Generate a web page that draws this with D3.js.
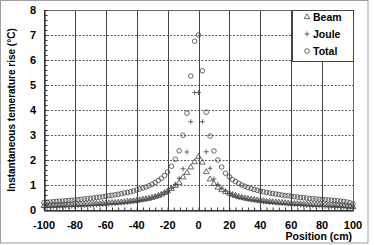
<!DOCTYPE html>
<html><head><meta charset="utf-8">
<script src="https://cdn.jsdelivr.net/npm/d3@7"></script>
<style>body{margin:0;background:#fff}svg{display:block}text{font-family:"Liberation Sans",Arial,sans-serif;font-weight:bold;fill:#000}</style>
</head><body><svg id="c" width="374" height="245"></svg>
<script>
const positions = [-100,-98,-96,-94,-92,-90,-88,-86,-84,-82,-80,-78,-76,-74,-72,-70,-68,-66,-64,-62,-60,-58,-56,-54,-52,-50,-48,-46,-44,-42,-40,-38,-36,-34,-32,-30,-28,-26,-24,-22,-20,
 -17.5,-15,-12.5,-10,-7.5,-5,-2.5,0,2.5,5,7.5,10,12.5,15,17.5,
 20,22,24,26,28,30,32,34,36,38,40,42,44,46,48,50,52,54,56,58,60,62,64,66,68,70,72,74,76,78,80,82,84,86,88,90,92,94,96,98,100];
const beam = [0.17,0.17,0.18,0.18,0.18,0.19,0.19,0.19,0.20,0.20,0.21,0.21,0.22,0.22,0.23,0.23,0.24,0.25,0.25,0.26,0.27,0.28,0.29,0.29,0.30,0.31,0.32,0.34,0.35,0.36,0.38,0.40,0.42,0.44,0.46,0.49,0.53,0.57,0.62,0.68,0.75,
 0.85,0.97,1.09,1.31,1.49,1.71,1.92,2.13,1.90,1.52,1.23,1.05,0.90,0.80,0.72,
 0.66,0.61,0.57,0.53,0.50,0.47,0.45,0.43,0.41,0.39,0.37,0.36,0.34,0.33,0.32,0.31,0.30,0.29,0.28,0.27,0.26,0.25,0.25,0.24,0.23,0.23,0.22,0.22,0.21,0.21,0.20,0.20,0.19,0.19,0.18,0.18,0.17,0.16,0.15,0.14,0.12];
const joule = [0.10,0.11,0.11,0.12,0.12,0.13,0.13,0.14,0.14,0.15,0.15,0.16,0.16,0.17,0.18,0.18,0.19,0.20,0.21,0.22,0.23,0.24,0.25,0.26,0.27,0.28,0.29,0.31,0.32,0.34,0.36,0.38,0.41,0.43,0.46,0.50,0.54,0.58,0.63,0.68,0.74,
 0.87,1.02,1.27,1.65,2.32,3.53,4.70,4.70,3.53,2.33,1.67,1.24,1.03,0.88,0.76,
 0.66,0.60,0.56,0.52,0.49,0.46,0.43,0.41,0.39,0.37,0.35,0.33,0.32,0.30,0.29,0.28,0.27,0.26,0.25,0.24,0.23,0.22,0.21,0.20,0.19,0.18,0.18,0.17,0.16,0.16,0.15,0.14,0.14,0.13,0.13,0.12,0.12,0.11,0.10,0.09,0.08];
const total = [0.30,0.31,0.32,0.33,0.34,0.35,0.36,0.37,0.38,0.39,0.40,0.41,0.43,0.44,0.45,0.47,0.48,0.50,0.51,0.53,0.55,0.57,0.59,0.61,0.63,0.65,0.68,0.70,0.73,0.76,0.80,0.84,0.88,0.92,0.97,1.03,1.10,1.18,1.27,1.38,1.52,
 1.75,2.03,2.37,2.99,3.87,5.36,6.75,7.00,5.57,3.91,2.96,2.36,2.00,1.72,1.47,
 1.33,1.22,1.14,1.07,1.00,0.95,0.90,0.86,0.82,0.79,0.76,0.73,0.70,0.68,0.66,0.64,0.62,0.60,0.58,0.57,0.55,0.53,0.52,0.50,0.49,0.48,0.46,0.45,0.44,0.43,0.42,0.41,0.40,0.39,0.38,0.37,0.35,0.34,0.32,0.29,0.24];
const xTicks = [-100,-80,-60,-40,-20,0,20,40,60,80,100];
const yTicks = [0,1,2,3,4,5,6,7,8];
const seriesNames = ["Beam","Joule","Total"];
const xTitle = "Position (cm)";
const yTitle = "Instantaneous temerature rise (°C)";

const svg = d3.select("#c");
const L=44, R=353, T=10, B=210;
const x = d3.scaleLinear().domain([-100,100]).range([L,R]);
const y = d3.scaleLinear().domain([0,8]).range([B,T]);

svg.append("rect").attr("x",0.5).attr("y",0.5).attr("width",367.5).attr("height",242.5)
  .attr("fill","#fff").attr("stroke","#a0a0a0").attr("stroke-width",1);

// gridlines
svg.append("g").selectAll("line").data(yTicks.filter(d=>d>0&&d<8)).join("line")
  .attr("x1",L).attr("x2",R).attr("y1",d=>Math.round(y(d))+0.5).attr("y2",d=>Math.round(y(d))+0.5)
  .attr("stroke","#333").attr("stroke-dasharray","2,1.5").attr("stroke-width",0.8);
svg.append("g").selectAll("line").data(xTicks.filter(d=>d>-100&&d<100)).join("line")
  .attr("y1",T).attr("y2",B).attr("x1",d=>Math.round(x(d))+0.5).attr("x2",d=>Math.round(x(d))+0.5)
  .attr("stroke","#444").attr("stroke-width",1);
// frame
svg.append("rect").attr("x",L+0.5).attr("y",T+0.5).attr("width",R-L).attr("height",B-T)
  .attr("fill","none").attr("stroke","#666").attr("stroke-width",1);

// axes with minor inside ticks
const xAxis = d3.axisBottom(x).tickValues(d3.range(-100,100.1,4)).tickSize(-3).tickFormat("");
const gx = svg.append("g").attr("transform",`translate(0,${B+0.5})`).call(xAxis);
const yAxis = d3.axisLeft(y).tickValues(d3.range(0,8.01,0.2)).tickSize(-3).tickFormat("");
const gy = svg.append("g").attr("transform",`translate(${L+0.5},0)`).call(yAxis);
[gx,gy].forEach(g=>{g.select(".domain").attr("stroke","#000");g.selectAll(".tick line").attr("stroke","#333");});

// tick labels
svg.append("g").selectAll("text").data(xTicks).join("text")
  .attr("x",d=>x(d)).attr("y",229).attr("text-anchor","middle").attr("font-size",11).text(d=>d);
svg.append("g").selectAll("text").data(yTicks).join("text")
  .attr("x",36).attr("y",d=>y(d)+4).attr("text-anchor","end").attr("font-size",11).text(d=>d);

svg.append("text").attr("x",352).attr("y",240).attr("text-anchor","end").attr("font-size",10.5).text(xTitle);
svg.append("text").attr("transform",`translate(15,${(T+B)/2}) rotate(-90)`).attr("text-anchor","middle")
  .attr("font-size",10).text(yTitle);

const col = "#444";
const tri = d3.symbol().type(d3.symbolTriangle).size(14);
const plot = svg.append("g");
plot.selectAll(".t").data(positions.map((p,i)=>[p,beam[i]])).join("path").attr("class","t")
  .attr("d",tri).attr("transform",d=>`translate(${x(d[0])},${y(d[1])})`)
  .attr("fill","none").attr("stroke",col).attr("stroke-width",0.8);
plot.selectAll(".j").data(positions.map((p,i)=>[p,joule[i]])).join("path").attr("class","j")
  .attr("d",d=>{const cx=x(d[0]),cy=y(d[1]);return `M${cx-2.5},${cy}H${cx+2.5}M${cx},${cy-2.5}V${cy+2.5}`;})
  .attr("stroke",col).attr("stroke-width",0.8);
plot.selectAll(".o").data(positions.map((p,i)=>[p,total[i]])).join("circle").attr("class","o")
  .attr("cx",d=>x(d[0])).attr("cy",d=>y(d[1])).attr("r",2.3)
  .attr("fill","none").attr("stroke",col).attr("stroke-width",0.8);

// legend
const lg = svg.append("g");
lg.append("rect").attr("x",292.5).attr("y",T+0.5).attr("width",R-292).attr("height",51)
  .attr("fill","#fff").attr("stroke","#444").attr("stroke-width",1);
const ly = [17,34,51];
lg.append("path").attr("d",tri).attr("transform",`translate(307,${ly[0]})`).attr("fill","none").attr("stroke",col).attr("stroke-width",0.8);
lg.append("path").attr("d",`M304.5,${ly[1]}H309.5M307,${ly[1]-2.5}V${ly[1]+2.5}`).attr("stroke",col).attr("stroke-width",0.8);
lg.append("circle").attr("cx",307).attr("cy",ly[2]).attr("r",2.3).attr("fill","none").attr("stroke",col).attr("stroke-width",0.8);
lg.selectAll("text.l").data(seriesNames).join("text").attr("class","l")
  .attr("x",313).attr("y",(d,i)=>ly[i]+4).attr("font-size",10.5).text(d=>d);
</script></body></html>
